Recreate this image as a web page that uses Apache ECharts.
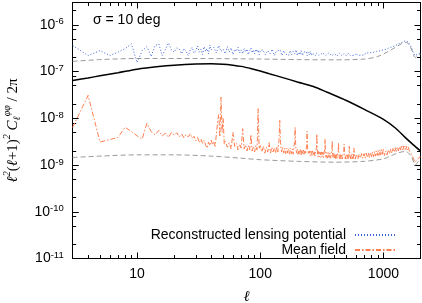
<!DOCTYPE html>
<html><head><meta charset="utf-8">
<script src="https://cdn.jsdelivr.net/npm/echarts@6/dist/echarts.min.js"></script>
<style>html,body{margin:0;padding:0;background:#fff}#c{width:422px;height:303px}</style>
</head><body><div id="c"></div>
<script>
// ---- data (multipole l, value) ----
// Theory lensing-potential spectrum l^2(l+1)^2 C_l / 2pi
const theory = [[3,6.4e-8],[4,7.3e-8],[5,8.1e-8],[7,9.4e-8],[10,1.12e-7],[15,1.28e-7],[20,1.37e-7],[30,1.45e-7],[40,1.47e-7],[50,1.44e-7],[60,1.37e-7],[70,1.29e-7],[85,1.15e-7],[100,1.03e-7],[120,8.9e-8],[150,7.5e-8],[200,6.0e-8],[270,4.8e-8],[350,3.6e-8],[500,2.4e-8],[700,1.55e-8],[1000,9.5e-9],[1250,6.2e-9],[1500,3.9e-9],[1750,2.7e-9],[2000,2.0e-9]];
// Upper grey dashed (noise), units 1e-7
const noiseUpper = [[3,1.65],[5,1.8],[10,1.9],[30,1.9],[100,1.85],[200,1.8],[400,1.78],[700,1.85],[900,2.1],[1100,2.7],[1300,3.5],[1450,4.1],[1520,4.2],[1600,3.9],[1700,2.9],[1780,2.1],[1820,2.0],[1900,2.2],[2000,2.35]];
// Lower grey dashed, units 1e-9
const noiseLower = [[3,1.45],[5,1.55],[10,1.65],[20,1.65],[40,1.55],[70,1.4],[100,1.3],[200,1.2],[400,1.15],[700,1.2],[1000,1.35],[1100,1.5],[1200,1.65],[1300,1.8],[1400,1.9],[1500,1.95],[1600,1.8],[1700,1.45],[1780,1.1],[1820,1.0],[1900,1.15],[2000,1.3]];
// Reconstructed lensing potential (blue dotted), units 1e-7
const reconstructed = [[3,3.6],[4,2.2],[5,2.8],[6,2.2],[7,2.6],[8,3.1],[9,3.9],[10,1.55],[11,2.8],[12,3.4],[13,2.1],[14,3.6],[15,3.9],[16,2.2],[17,3.0],[18,4.1],[19,2.9],[20,2.6],[21,3.2],[22,3.0],[23,2.4],[24,3.1],[25,2.7],[26,2.2],[27,2.9],[28,3.3],[29,2.5],[30,2.8],[31,3.5],[32,2.6],[33,3.0],[34,2.3],[35,3.4],[36,2.7],[37,3.1],[38,2.4],[39,3.7],[40,2.9],
[42,3.3],[44,2.5],[46,3.6],[48,2.7],[50,3.0],[52,2.4],[54,3.4],[56,2.6],[58,3.2],[60,2.3],[62,3.0],[64,2.7],[66,3.3],[68,2.5],[70,2.9],[72,2.4],[74,3.1],[76,2.6],[78,3.0],[80,2.3],[82,2.8],[84,3.2],[86,2.5],[88,2.9],[90,2.4],[92,3.0],[94,2.6],[96,2.9],[98,2.3],[100,2.8],
[105,2.9],[110,2.3],[115,2.8],[120,2.4],[125,3.0],[130,2.2],[135,2.7],[140,2.5],[145,2.9],[150,2.2],[155,2.8],[160,2.4],[165,2.6],[170,2.2],[175,2.8],[180,2.3],[185,2.7],[190,2.4],[195,2.9],[200,2.2],[205,2.6],[210,2.3],[215,2.8],[220,2.2],[225,2.6],[230,2.4],[235,2.7],[240,2.2],[245,2.6],[250,2.3],[255,2.7],[260,2.2],[265,2.5],[270,2.3],[275,2.6],[280,2.2],[285,2.5],[290,2.3],[295,2.6],[300,2.2],
[320,2.5],[340,2.2],[360,2.5],[380,2.2],[400,2.4],[420,2.15],[440,2.45],[460,2.2],[480,2.4],[500,2.15],[520,2.45],[540,2.2],[560,2.4],[580,2.2],[600,2.45],[620,2.2],[640,2.4],[660,2.25],[680,2.45],[700,2.25],[720,2.5],[740,2.3],[760,2.5],[780,2.35],[800,2.55],[820,2.4],[840,2.6],[860,2.45],[880,2.7],[900,2.55],[920,2.75],[940,2.6],[960,2.85],[980,2.7],[1000,2.9],
[1025,2.8],[1050,3.0],[1075,2.95],[1100,3.15],[1125,3.1],[1150,3.3],[1175,3.25],[1200,3.45],[1225,3.4],[1250,3.6],[1275,3.6],[1300,3.8],[1325,3.8],[1350,4.0],[1375,4.0],[1400,4.2],[1425,4.2],[1450,4.4],[1475,4.45],[1500,4.55],[1525,4.5],[1550,4.5],[1575,4.35],[1600,4.2],[1625,3.95],[1650,3.7],[1675,3.4],[1700,3.1],[1725,2.8],[1750,2.5],[1775,2.3],[1800,2.2],[1825,2.2],[1850,2.25],[1875,2.3],[1900,2.35],[1925,2.4],[1950,2.45],[1975,2.45],[2000,2.5]];
// Mean field (orange dash-dot), units 1e-9
const meanField = [[3,6.4],[4,31],[5,3.1],[6,3.5],[7,3.9],[8,6.4],[9,5.2],[10,4.2],[11,3.6],[12,7.8],[13,5.2],[14,4.4],[15,5.5],[16,4.2],[17,4.8],[18,3.9],[19,5.0],[20,4.3],[21,4.9],[22,4.0],[23,4.6],[24,3.8],[25,4.5],[26,4.0],[27,4.7],[28,3.7],[29,4.1],[30,3.3],[31,3.9],[32,3.0],[33,3.6],[34,2.9],[35,3.4],[36,2.7],[37,2.3],[38,3.1],[39,2.6],[40,3.4],[41,2.7],[42,3.2],[43,2.5],[44,4.5],[45,8.0],[46,12],[47,4.0],[48,28],[49,5.0],[50,10],[51,2.8],
[52,3.2],[54,2.4],[56,3.0],[58,2.2],[60,5.0],[62,2.5],[64,2.9],[66,2.1],[68,2.8],[70,2.3],[72,6.0],[74,2.2],[76,2.7],[78,2.0],[80,2.6],[82,2.1],[84,4.5],[86,2.0],[88,2.5],[90,1.9],[92,2.6],[94,2.1],[95,4.5],[96,16],[97,6],[98,2.2],
[100,2.6],[103,1.9],[106,2.5],[109,1.8],[112,2.4],[115,1.9],[118,3.0],[121,1.8],[124,2.4],[127,1.9],[130,2.3],[133,1.8],[136,2.5],[139,1.9],[142,3.5],[144,9.0],[146,3.0],[149,1.9],
[152,2.4],[155,1.8],[158,2.3],[161,1.75],[164,2.3],[167,1.8],[170,2.2],[173,1.7],[176,2.3],[179,1.75],[182,2.2],[185,1.7],[188,2.6],[190,3.0],[192,6.4],[194,2.5],
[197,1.8],[200,2.2],[203,1.7],[206,2.1],[209,1.7],[212,2.2],[215,1.65],[218,2.1],[221,1.7],[224,2.1],[227,1.65],[230,2.0],[233,1.7],[236,2.2],[238,2.6],[240,5.3],[242,2.4],
[246,1.7],[250,2.0],[254,1.6],[258,2.0],[262,1.55],[266,2.0],[270,1.6],[274,1.95],[278,1.55],[282,2.0],[286,2.4],[288,4.6],[290,2.2],
[294,1.5],[298,1.95],[302,1.5],[306,1.9],[310,1.45],[314,1.9],[318,1.5],[322,1.9],[326,1.45],[330,1.85],[334,2.2],[336,3.6],[338,2.0],
[342,1.45],[347,1.85],[352,1.4],[357,1.85],[362,1.45],[367,1.8],[372,1.4],[377,1.8],[382,2.1],[384,3.3],[386,1.9],
[390,1.4],[395,1.8],[400,1.4],[405,1.75],[410,1.35],[415,1.75],[420,1.4],[425,1.75],[430,2.0],[432,3.0],[434,1.8],
[440,1.35],[446,1.75],[452,1.35],[458,1.7],[464,1.35],[470,1.7],[476,1.9],[480,2.8],[484,1.7],
[490,1.35],[498,1.7],[506,1.35],[514,1.7],[522,1.35],[528,2.5],[534,1.7],[542,1.35],[550,1.7],[558,1.35],[566,1.7],[572,1.4],[576,2.3],[582,1.7],
[590,1.35],[605,1.7],[620,1.35],[635,1.7],[650,1.4],[665,1.75],[680,1.4],[695,1.75],[710,1.4],[725,1.8],[740,1.45],[755,1.8],[770,1.45],[785,1.85],[800,1.5],[815,1.9],[830,1.5],[845,1.95],[860,1.55],[875,2.0],[890,1.6],[905,2.05],[920,1.6],[935,2.1],[950,1.65],[965,2.15],[980,1.7],[995,2.2],
[1020,1.6],[1045,2.0],[1070,1.65],[1095,2.1],[1120,1.75],[1145,2.2],[1170,1.8],[1195,2.25],[1220,1.9],[1245,2.35],[1270,1.95],[1295,2.4],[1320,2.0],[1345,2.45],[1370,2.05],[1395,2.5],[1420,2.1],[1445,2.55],[1470,2.15],[1495,2.55],[1520,2.15],[1545,2.5],[1570,2.1],[1595,2.4],[1620,2.0],[1645,2.2],[1670,1.8],[1695,1.85],[1720,1.55],[1745,1.5],[1770,1.3],[1795,1.15],[1820,1.1],[1845,1.2],[1870,1.25],[1895,1.35],[1920,1.35],[1945,1.45],[1970,1.45],[2000,1.5]];

// ---- ticks ----
const xMajorTicks = [10, 100, 1000];
const xMinorTicks = [3,4,5,6,7,8,9,20,30,40,50,60,70,80,90,200,300,400,500,600,700,800,900];
const yMajorTicks = [1e-11, 1e-10, 1e-9, 1e-8, 1e-7, 1e-6];
const yMinorTicks = [2e-11,5e-11,8e-11,2e-10,5e-10,8e-10,2e-9,5e-9,8e-9,2e-8,5e-8,8e-8,2e-7,5e-7,8e-7,2e-6];
const xRange = [3, 2000];
const yRange = [1e-11, 3e-6];

const scaled = (arr, unit) => arr.map(p => [p[0], p[1] * unit]);

const FONT = 'Liberation Sans, Arial, sans-serif';
const SERIF = 'Liberation Serif, DejaVu Serif, serif';

function xAxisDef(pos, ticks, len, major) {
  return {
    type: 'log', logBase: 10, min: xRange[0], max: xRange[1], position: pos, gridIndex: 0,
    axisLine: { show: major, lineStyle: { color: '#000', width: 1 } },
    axisTick: { show: true, inside: true, length: len, customValues: ticks, lineStyle: { color: '#000', width: 1 } },
    axisLabel: { show: major && pos === 'bottom', customValues: xMajorTicks, margin: 9,
      color: '#000', fontSize: 14, fontFamily: FONT, formatter: v => String(Math.round(v)) },
    splitLine: { show: false }, minorTick: { show: false }
  };
}
function yAxisDef(pos, ticks, len, major) {
  return {
    type: 'log', logBase: 10, min: yRange[0], max: yRange[1], position: pos, gridIndex: 0,
    axisLine: { show: major, lineStyle: { color: '#000', width: 1 } },
    axisTick: { show: true, inside: true, length: len, customValues: ticks, lineStyle: { color: '#000', width: 1 } },
    axisLabel: { show: major && pos === 'left', customValues: yMajorTicks, margin: 9,
      formatter: v => '{b|10}{s|' + Math.round(Math.log10(v)) + '}',
      rich: {
        b: { fontSize: 14, lineHeight: 16, fontFamily: FONT, color: '#000' },
        s: { fontSize: 9.5, lineHeight: 9, verticalAlign: 'top', fontFamily: FONT, color: '#000' }
      } },
    splitLine: { show: false }, minorTick: { show: false }
  };
}

const xAxes = [
  xAxisDef('bottom', xMajorTicks, 6, true),
  xAxisDef('bottom', xMinorTicks, 3.5, false),
  xAxisDef('top', xMajorTicks, 6, true),
  xAxisDef('top', xMinorTicks, 3.5, false)
];
xAxes[0].name = 'ℓ';
xAxes[0].nameLocation = 'middle';
xAxes[0].nameGap = 31;
xAxes[0].nameTextStyle = { fontFamily: SERIF, fontStyle: 'italic', fontSize: 15, color: '#000' };

const yAxes = [
  yAxisDef('left', yMajorTicks, 6, true),
  yAxisDef('left', yMinorTicks, 3.5, false),
  yAxisDef('right', yMajorTicks, 6, true),
  yAxisDef('right', yMinorTicks, 3.5, false)
];
yAxes[0].name = '{i|ℓ}{s|2}{n|(}{i|ℓ}{n|+1)}{s|2}{n| }{i|C}{b|ℓ}{s|φφ}{n| / 2π}';
yAxes[0].nameLocation = 'middle';
yAxes[0].nameGap = 50;
yAxes[0].nameRotate = 90;
yAxes[0].nameTextStyle = {
  color: '#000',
  rich: {
    i: { fontFamily: SERIF, fontStyle: 'italic', fontSize: 15, lineHeight: 20, color: '#000' },
    n: { fontFamily: SERIF, fontSize: 15, lineHeight: 20, color: '#000' },
    s: { fontFamily: SERIF, fontStyle: 'italic', fontSize: 10, lineHeight: 10, verticalAlign: 'top', color: '#000' },
    b: { fontFamily: SERIF, fontStyle: 'italic', fontSize: 10, lineHeight: 10, verticalAlign: 'bottom', color: '#000' }
  }
};

const chart = echarts.init(document.getElementById('c'), null, { renderer: 'canvas' });
chart.setOption({
  animation: false,
  backgroundColor: '#fff',
  grid: { left: 72.7, right: 1.5, top: 2.5, bottom: 44.5, containLabel: false, outerBoundsMode: 'none' },
  xAxis: xAxes,
  yAxis: yAxes,
  legend: {
    data: ['Reconstructed lensing potential', 'Mean field'],
    orient: 'vertical', align: 'right', right: 19, top: 223,
    itemWidth: 42, itemHeight: 14, itemGap: 1,
    itemStyle: { opacity: 0, borderWidth: 0 },
    textStyle: { fontSize: 14, fontFamily: FONT, color: '#000', lineHeight: 14, padding: [0, 4, 0, 0] },
    selectedMode: false
  },
  graphic: [{ type: 'text', left: 93, top: 13, style: { text: 'σ = 10 deg', font: '14px Liberation Sans, Arial, sans-serif', fill: '#000' } }],
  series: [
    { type: 'line', data: scaled(noiseLower, 1e-9), symbol: 'none', smooth: 0.3, silent: true,
      lineStyle: { color: '#9a9a9a', width: 1, type: [5, 3] }, z: 2 },
    { type: 'line', data: scaled(noiseUpper, 1e-7), symbol: 'none', smooth: 0.3, silent: true,
      lineStyle: { color: '#9a9a9a', width: 1, type: [5, 3] }, z: 2 },
    { type: 'line', name: 'Mean field', data: scaled(meanField, 1e-9), symbol: 'none', silent: true,
      lineStyle: { color: '#ff7f50', width: 1, type: [5, 2, 1.5, 2] }, itemStyle: { color: '#ff7f50' }, z: 3 },
    { type: 'line', name: 'Reconstructed lensing potential', data: scaled(reconstructed, 1e-7), symbol: 'none', silent: true,
      lineStyle: { color: '#3f66dd', width: 1, type: [1, 2] }, itemStyle: { color: '#3f66dd' }, z: 3 },
    { type: 'line', data: theory, symbol: 'none', smooth: 0.3, silent: true,
      lineStyle: { color: '#000', width: 1.5 }, z: 4 }
  ]
});
</script></body></html>
